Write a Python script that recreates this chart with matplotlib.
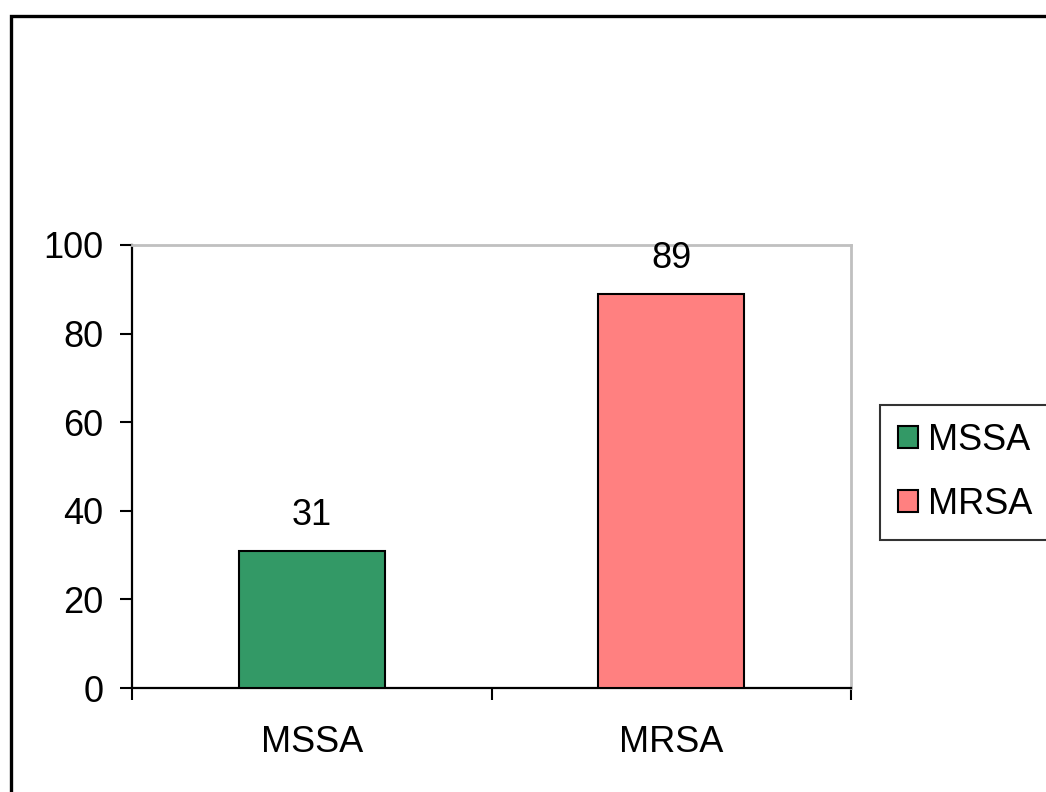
import matplotlib
matplotlib.use('Agg')
import matplotlib.pyplot as plt
from matplotlib.patches import Rectangle, Patch

plt.rcParams.update({
    'font.family': ['Liberation Sans', 'DejaVu Sans'],
    'font.size': 26,
})

groups = ['MSSA', 'MRSA']
values = [31, 89]
colors = ['#339966', '#FF8080']
y_ticks = [0, 20, 40, 60, 80, 100]

W, H = 1046, 792
fig = plt.figure(figsize=(W / 100, H / 100), dpi=100)

# outer chart frame, runs off the right and bottom edges
fig.patches.append(Rectangle((11 / W, -0.05), 1.2, 1 - 16 / H + 0.05,
                             transform=fig.transFigure, fill=False,
                             ec='black', lw=2.4, clip_on=False))

ax = fig.add_axes([132 / W, 1 - 688 / H, (851 - 132) / W, (688 - 245) / H])
x = range(len(groups))
bars = ax.bar(x, values, width=0.405, color=colors, edgecolor='black', linewidth=1.5,
              zorder=3)
for b, v in zip(bars, values):
    ax.annotate(str(v), (b.get_x() + b.get_width() / 2, v), xytext=(0, 13),
                textcoords='offset points', ha='center', va='bottom')

ax.set_xlim(-0.5, len(groups) - 0.5)
ax.set_ylim(0, 100)
ax.set_yticks(y_ticks)
ax.set_xticks(list(x))
ax.set_xticklabels(groups)
ax.set_xticks([i - 0.5 for i in range(len(groups) + 1)], minor=True)
ax.tick_params(axis='x', which='major', length=0, pad=27)
ax.tick_params(axis='x', which='minor', length=8.6, width=1.5, direction='out')
ax.tick_params(axis='y', length=8.6, width=1.5, direction='out', pad=12)

for side in ('top', 'right'):
    ax.spines[side].set_color('#c0c0c0')
    ax.spines[side].set_linewidth(2)
for side in ('left', 'bottom'):
    ax.spines[side].set_color('black')
    ax.spines[side].set_linewidth(1.6)

handles = [Patch(facecolor=c, edgecolor='black', linewidth=1.5, label=g)
           for g, c in zip(groups, colors)]
leg = fig.legend(handles=handles, loc='upper left',
                 bbox_to_anchor=(880 / W, 1 - 405 / H),
                 frameon=True, fancybox=False, handlelength=0.55, handleheight=0.55,
                 handletextpad=0.27, labelspacing=0.8, borderpad=0.5,
                 borderaxespad=0)
leg.get_frame().set_edgecolor('black')
leg.get_frame().set_linewidth(1.5)

fig.savefig('out.png', dpi=100, facecolor='white')
